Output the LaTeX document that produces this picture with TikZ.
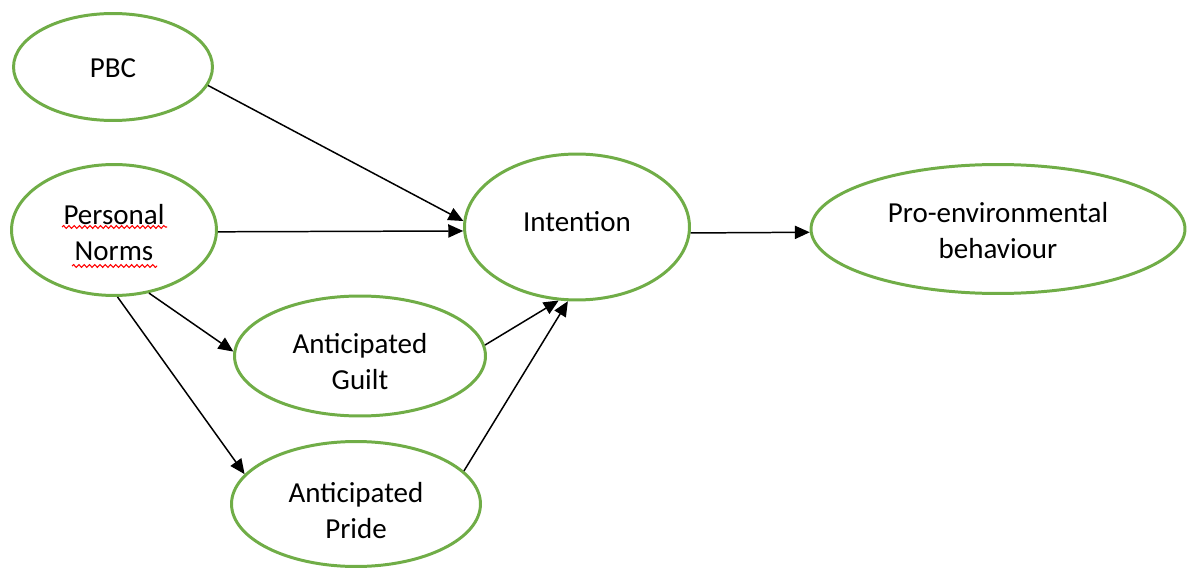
\documentclass[tikz,border=0pt]{standalone}
\usepackage{fontspec}
\setmainfont{Carlito}
\usetikzlibrary{arrows.meta,shapes.geometric,decorations.pathmorphing,calc}
\definecolor{ellgreen}{RGB}{112,173,71}

\begin{document}
\begin{tikzpicture}[x=0.02cm,y=-0.02cm,
    construct/.style={ellipse,draw=ellgreen,line width=1.7pt,inner sep=0pt},
    caption/.style={align=center,inner sep=0pt,font=\fontsize{16.5}{20.5}\selectfont},
    link/.style={line width=0.85pt,-{Triangle[length=8.5pt,width=7.5pt]}},
    squiggle/.style={red,line width=0.6pt,decorate,
      decoration={snake,amplitude=0.8pt,segment length=3pt}}]
    \useasboundingbox (0,0) rectangle (1190,574);

    % constructs
    \node[construct,minimum width=3.98cm,minimum height=2.14cm] (pbc) at (113,67) {};
    \node[construct,minimum width=4.10cm,minimum height=2.62cm] (norms) at (114,230) {};
    \node[construct,minimum width=4.50cm,minimum height=2.92cm] (intent) at (577,227) {};
    \node[construct,minimum width=7.48cm,minimum height=2.58cm] (behav) at (998,229) {};
    \node[construct,minimum width=5.02cm,minimum height=2.40cm] (guilt) at (360,356) {};
    \node[construct,minimum width=4.98cm,minimum height=2.50cm] (pride) at (356,504) {};

    % texts
    \node[caption] (pbc-t) at ($(pbc)+(0,1)$) {PBC};
    \node[caption] (norms-t) at ($(norms)+(0,3)$) {Personal\\Norms};
    \node[caption] (intent-t) at ($(intent)+(0,-5)$) {Intention};
    \node[caption] (behav-t) at ($(behav)+(0,2)$) {Pro-environmental\\behaviour};
    \node[caption] (guilt-t) at ($(guilt)+(0,6)$) {Anticipated\\Guilt};
    \node[caption] (pride-t) at ($(pride)+(0,7)$) {Anticipated\\Pride};

    % paths
    \draw[link] (pbc.-11) -- (intent.177);
    \draw[link] (norms.-1) -- (intent.182);
    \draw[link] (intent.-3) -- (behav.181);
    \draw[link] (norms.-61) -- (guilt.178);
    \draw[link] (norms.-87) -- (pride.165);
    \draw[link] (guilt.5) -- (intent.-104);
    \draw[link] (pride.17) -- (intent.-97);

    % spell-check marks
    \draw[squiggle] ($(norms)+(-52,-3)$) -- ++(105,0);
    \draw[squiggle] ($(norms)+(-42,36)$) -- ++(85,0);
\end{tikzpicture}
\end{document}
